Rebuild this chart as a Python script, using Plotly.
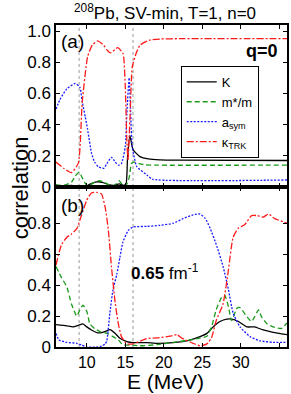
import plotly.graph_objects as go

# ---------------- data ----------------
# Panel (a): q = 0
a_K_E = [6, 7, 8, 9, 9.8, 10.5, 11.3, 12.0, 12.8, 13.5, 14.2, 14.8, 15.1, 15.3, 15.6, 16.0, 16.9, 18, 19.5, 22, 36]
a_K_v = [0.01, 0.008, 0.01, 0.005, 0.003, 0.02, 0.033, 0.03, 0.015, 0.01, 0.02, 0.01, 0.02, 0.2, 0.33, 0.24, 0.195, 0.18, 0.174, 0.172, 0.17]

a_m_E = [6, 7, 8, 8.5, 9.0, 9.5, 10.0, 10.5, 11.0, 11.6, 12.3, 13.0, 13.6, 14.2, 14.7, 15.1, 15.5, 15.8, 16.1, 16.8, 17.5, 19, 36]
a_m_v = [0.015, 0.01, 0.03, 0.07, 0.095, 0.05, 0.01, 0.015, 0.03, 0.04, 0.03, 0.01, 0.01, 0.04, 0.01, 0.01, 0.06, 0.15, 0.16, 0.15, 0.143, 0.14, 0.14]

a_asym_E = [6, 6.5, 7.4, 8.5, 9.1, 9.4, 9.8, 10.1, 10.6, 11.0, 11.5, 12.2, 12.6, 13.2, 13.7, 14.1, 14.5, 15.0, 15.2, 15.5, 15.7, 15.9, 16.5, 17.8, 18.5, 36]
a_asym_v = [0.50, 0.56, 0.63, 0.665, 0.64, 0.55, 0.45, 0.37, 0.22, 0.16, 0.13, 0.12, 0.15, 0.19, 0.16, 0.14, 0.15, 0.26, 0.47, 0.70, 0.47, 0.26, 0.13, 0.077, 0.05, 0.045]

a_trk_E = [6, 7, 8, 8.9, 9.4, 10.1, 10.7, 11.4, 12.2, 12.6, 13.1, 14.0, 14.7, 15.0, 15.2, 15.35, 15.6, 15.9, 16.4, 16.9, 18.1, 19.5, 22, 36]
a_trk_v = [0.16, 0.12, 0.092, 0.153, 0.54, 0.835, 0.91, 0.938, 0.91, 0.88, 0.861, 0.895, 0.857, 0.64, 0.3, 0.173, 0.43, 0.77, 0.857, 0.91, 0.942, 0.95, 0.952, 0.952]

# Panel (b): q = 0.65 fm^-1
b_K_E = [6, 7.4, 8.2, 8.9, 9.5, 10.0, 10.6, 11.3, 11.9, 12.6, 13.0, 13.7, 14.3, 15.2, 16.0, 17.8, 19.1, 21.2, 23.4, 24.7, 25.6, 26.4, 27.3, 28.2, 28.8, 29.7, 30.8, 31.8, 32.9, 34.2, 36]
b_K_v = [0.145, 0.137, 0.13, 0.14, 0.15, 0.13, 0.11, 0.093, 0.093, 0.105, 0.113, 0.088, 0.056, 0.035, 0.028, 0.028, 0.024, 0.028, 0.045, 0.067, 0.088, 0.13, 0.165, 0.18, 0.18, 0.165, 0.13, 0.13, 0.11, 0.095, 0.08]

b_m_E = [6, 6.7, 7.4, 8.0, 8.7, 9.1, 9.5, 10.0, 10.4, 11.0, 11.7, 12.6, 13.4, 14.1, 14.7, 15.6, 16.9, 19.1, 21.2, 23.4, 24.7, 25.6, 26.2, 26.8, 27.5, 27.9, 28.4, 28.8, 29.5, 29.9, 30.8, 31.4, 31.8, 32.3, 32.7, 33.4, 34.2, 35.3, 36]
b_m_v = [0.52, 0.45, 0.39, 0.28, 0.2, 0.24, 0.27, 0.23, 0.15, 0.12, 0.10, 0.088, 0.067, 0.045, 0.013, 0.013, 0.008, 0.015, 0.03, 0.045, 0.058, 0.07, 0.13, 0.24, 0.32, 0.335, 0.26, 0.17, 0.25, 0.255, 0.195, 0.165, 0.195, 0.24, 0.195, 0.15, 0.13, 0.12, 0.155]

b_asym_E = [6, 6.4, 7.4, 8.7, 9.3, 10.0, 11.3, 11.9, 12.4, 12.6, 13.0, 13.4, 13.9, 14.3, 14.7, 15.4, 16.0, 17.8, 19.5, 21.2, 22.5, 23.8, 24.7, 25.4, 26.0, 26.9, 27.7, 28.4, 29.0, 29.9, 31.2, 32.5, 34.2, 36]
b_asym_v = [0.088, 0.045, 0.03, 0.024, 0.013, 0.0, 0.0, 0.005, 0.02, 0.04, 0.22, 0.37, 0.47, 0.58, 0.68, 0.755, 0.776, 0.78, 0.787, 0.80, 0.83, 0.855, 0.86, 0.83, 0.77, 0.65, 0.52, 0.37, 0.22, 0.13, 0.067, 0.04, 0.03, 0.03]

b_trk_E = [6, 6.7, 7.4, 8.0, 8.7, 9.3, 10.0, 10.6, 11.3, 11.9, 12.4, 12.8, 13.2, 13.7, 14.1, 14.5, 15.2, 16.0, 17.8, 19.1, 20.8, 21.7, 22.4, 23.8, 24.7, 25.6, 26.2, 26.8, 27.7, 28.4, 29.0, 29.7, 30.5, 31.4, 32.1, 32.9, 33.6, 34.4, 35.5, 36]
b_trk_v = [0.53, 0.66, 0.71, 0.73, 0.765, 0.85, 0.95, 0.996, 1.0, 0.99, 0.9, 0.755, 0.52, 0.28, 0.15, 0.067, 0.02, 0.02, 0.055, 0.059, 0.07, 0.08, 0.056, 0.024, 0.008, 0.02, 0.06, 0.17, 0.28, 0.50, 0.71, 0.77, 0.79, 0.85, 0.85, 0.84, 0.86, 0.83, 0.81, 0.80]

ref_lines_E = [9.0, 16.0]

x_ticks = [10, 15, 20, 25, 30, 35]
x_ticktext = ["10", "15", "20", "25", "30", " "]
ya_ticks = [0, 0.2, 0.4, 0.6, 0.8, 1.0]
ya_ticktext = ["0", "0.2", "0.4", "0.6", "0.8", "1.0"]
yb_ticks = [0, 0.2, 0.4, 0.6, 0.8]
yb_ticktext = ["0", "0.2", "0.4", "0.6", "0.8"]

names = ["K", "m*/m", "a<sub>sym</sub>", "κ<sub>TRK</sub>"]
colors = ["#000000", "#1a9a1a", "#1a1aff", "#ff1a1a"]
dashes = ["solid", "5px,3px", "2px,1.5px", "7px,2px,2px,2px"]

# ---------------- figure ----------------
fig = go.Figure()
panel_a = [(a_K_E, a_K_v), (a_m_E, a_m_v), (a_asym_E, a_asym_v), (a_trk_E, a_trk_v)]
panel_b = [(b_K_E, b_K_v), (b_m_E, b_m_v), (b_asym_E, b_asym_v), (b_trk_E, b_trk_v)]

for i, (E, v) in enumerate(panel_a):
    fig.add_trace(go.Scatter(x=E, y=v, mode="lines", name=names[i], xaxis="x", yaxis="y",
                             line=dict(color=colors[i], width=1.3, dash=dashes[i], shape="spline", smoothing=0.5),
                             showlegend=True))
for i, (E, v) in enumerate(panel_b):
    fig.add_trace(go.Scatter(x=E, y=v, mode="lines", name=names[i], xaxis="x2", yaxis="y2",
                             line=dict(color=colors[i], width=1.3, dash=dashes[i], shape="spline", smoothing=0.5),
                             showlegend=False))

for e in ref_lines_E:
    for xr, yr in (("x", "y"), ("x2", "y2")):
        fig.add_shape(type="line", xref=xr, yref=yr + " domain", x0=e, x1=e, y0=0, y1=1,
                      line=dict(color="#999999", width=1, dash="dot"), layer="below")

axis_common = dict(showline=True, linecolor="black", linewidth=1.5, mirror="ticks",
                   ticks="inside", ticklen=4, tickcolor="black", showgrid=False, zeroline=False,
                   automargin=False)

font_family = "Liberation Sans, Arial, sans-serif"

fig.update_layout(
    width=291, height=394,
    margin=dict(l=56, r=4, t=25, b=47, autoexpand=False),
    paper_bgcolor="white", plot_bgcolor="white",
    font=dict(family=font_family, size=17, color="black"),
    xaxis=dict(domain=[0, 1], range=[6, 36], anchor="y", tickvals=x_ticks,
               showticklabels=False, **axis_common),
    yaxis=dict(domain=[0.497, 1], range=[0, 1.04], anchor="x", tickvals=ya_ticks,
               ticktext=ya_ticktext, tickfont=dict(size=17), **axis_common),
    xaxis2=dict(domain=[0, 1], range=[6, 36], anchor="y2", tickvals=x_ticks,
                ticktext=x_ticktext, tickfont=dict(size=16), **axis_common),
    yaxis2=dict(domain=[0, 0.497], range=[0, 1.035], anchor="x2", tickvals=yb_ticks,
                ticktext=yb_ticktext, tickfont=dict(size=17), **axis_common),
    legend=dict(x=0.54, y=0.873, xanchor="left", yanchor="top",
                bordercolor="black", borderwidth=1, bgcolor="white",
                font=dict(size=13), tracegroupgap=0, itemwidth=30),
    annotations=[
        dict(text="<sup>208</sup>Pb, SV-min, T=1, n=0", x=0.472, y=1.04, xref="paper", yref="paper",
             showarrow=False, xanchor="center", yanchor="middle", font=dict(size=17)),
        dict(text="correlation", x=-0.15, y=0.494, xref="paper", yref="paper", textangle=-90,
             showarrow=False, xanchor="center", yanchor="middle", font=dict(size=22)),
        dict(text="E (MeV)", x=0.472, y=-0.107, xref="paper", yref="paper",
             showarrow=False, xanchor="center", yanchor="middle", font=dict(size=21)),
        dict(text="(a)", x=0.015, y=0.95, xref="paper", yref="paper",
             showarrow=False, xanchor="left", yanchor="middle", font=dict(size=19)),
        dict(text="(b)", x=0.015, y=0.44, xref="paper", yref="paper",
             showarrow=False, xanchor="left", yanchor="middle", font=dict(size=19)),
        dict(text="<b>q=0</b>", x=0.97, y=0.92, xref="paper", yref="paper",
             showarrow=False, xanchor="right", yanchor="middle", font=dict(size=18)),
        dict(text="<b>0.65</b> fm<sup>-1</sup>", x=0.47, y=0.234, xref="paper", yref="paper",
             showarrow=False, xanchor="center", yanchor="middle", font=dict(size=17)),
    ],
)

fig.write_html("out.html", config={"displayModeBar": False},
               post_script="document.body.style.margin='0';")
